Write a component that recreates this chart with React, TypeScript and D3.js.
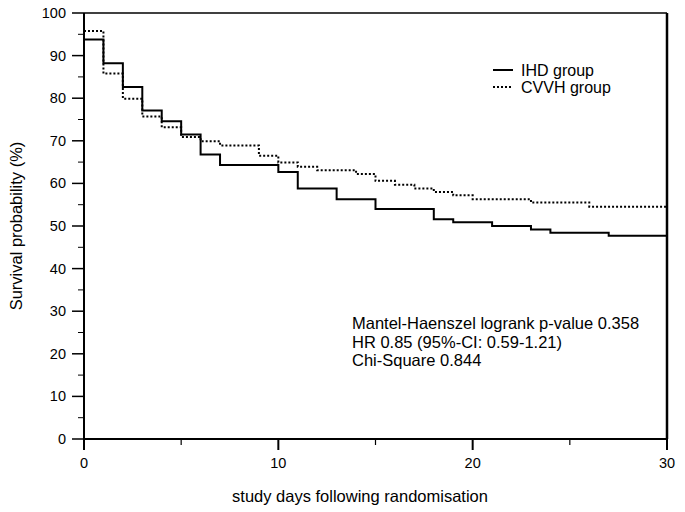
import React from "react";
import * as d3 from "d3";

const ihdTimes = [0, 1, 2, 3, 4, 5, 6, 7, 10, 11, 13, 15, 18, 19, 21, 23, 24, 27];
const ihdSurv = [93.8, 88.2, 82.6, 77.1, 74.6, 71.5, 66.8, 64.3, 62.7, 58.8, 56.3, 54.0, 51.6, 50.9, 50.0, 49.2, 48.4, 47.7];
const cvvhTimes = [0, 1, 2, 3, 4, 5, 6, 7, 9, 10, 11, 12, 14, 15, 16, 17, 18, 19, 20, 23, 26];
const cvvhSurv = [95.8, 85.8, 79.9, 75.7, 73.2, 70.9, 69.9, 68.9, 66.5, 64.9, 63.9, 63.1, 62.2, 60.6, 59.7, 58.8, 58.0, 57.2, 56.3, 55.5, 54.5];
const xMajor = [0, 10, 20, 30];
const xMinor = [5, 15, 25];
const yMajor = [0, 10, 20, 30, 40, 50, 60, 70, 80, 90, 100];
const yMinor = [5, 15, 25, 35, 45, 55, 65, 75, 85, 95];
const legendLabels = ["IHD group", "CVVH group"];
const statLines = [
  "Mantel-Haenszel logrank p-value 0.358",
  "HR 0.85 (95%-CI: 0.59-1.21)",
  "Chi-Square 0.844",
];
const xMax = 30;

export default function App() {
  const W = 685, H = 512;
  const x = d3.scaleLinear().domain([0, 30]).range([84, 667]);
  const y = d3.scaleLinear().domain([0, 100]).range([439, 13]);
  const font = "Liberation Sans, Arial, sans-serif";

  const mk = (times: number[], surv: number[]) => {
    const pts: [number, number][] = times.map((t, i) => [t, surv[i]]);
    pts.push([xMax, surv[surv.length - 1]]);
    return d3.line<[number, number]>().x(d => x(d[0])).y(d => y(d[1])).curve(d3.curveStepAfter)(pts) || "";
  };

  return (
    <svg width={W} height={H} style={{ position: "absolute", left: 0, top: 0, background: "#fff" }}>
      <rect x={0} y={0} width={W} height={H} fill="#fff" />
      {/* frame top & right */}
      <line x1={x(0)} x2={x(30)} y1={y(100)} y2={y(100)} stroke="#000" strokeWidth={1.5} />
      <line x1={x(30)} x2={x(30)} y1={y(100)} y2={y(0)} stroke="#000" strokeWidth={2.5} />
      {/* curves */}
      <path d={mk(ihdTimes, ihdSurv)} fill="none" stroke="#000" strokeWidth={2} />
      <path d={mk(cvvhTimes, cvvhSurv)} fill="none" stroke="#000" strokeWidth={2} strokeDasharray="2,2" />
      {/* axes */}
      <line x1={x(0)} x2={x(0)} y1={y(100)} y2={y(0) + 11} stroke="#000" strokeWidth={2} />
      <line x1={x(0)} x2={x(30)} y1={y(0)} y2={y(0)} stroke="#000" strokeWidth={2} />
      {yMajor.map(v => (
        <g key={"ym" + v}>
          <line x1={x(0) - 12} x2={x(0)} y1={y(v)} y2={y(v)} stroke="#000" strokeWidth={1.5} />
          <text x={66} y={y(v) + 5} textAnchor="end" fontFamily={font} fontSize={14.5}>{v}</text>
        </g>
      ))}
      {yMinor.map(v => (
        <line key={"yn" + v} x1={x(0) - 6} x2={x(0)} y1={y(v)} y2={y(v)} stroke="#000" strokeWidth={1} />
      ))}
      {xMajor.map(v => (
        <g key={"xm" + v}>
          <line x1={x(v)} x2={x(v)} y1={y(0)} y2={y(0) + 11} stroke="#000" strokeWidth={2} />
          <text x={x(v)} y={y(0) + 29} textAnchor="middle" fontFamily={font} fontSize={14.5}>{v}</text>
        </g>
      ))}
      {xMinor.map(v => (
        <line key={"xn" + v} x1={x(v)} x2={x(v)} y1={y(0)} y2={y(0) + 6} stroke="#000" strokeWidth={1.2} />
      ))}
      {/* axis titles */}
      <text x={360} y={502} textAnchor="middle" fontFamily={font} fontSize={16.5}>study days following randomisation</text>
      <text transform={`translate(22,${(y(0) + y(100)) / 2}) rotate(-90)`} textAnchor="middle" fontFamily={font} fontSize={16.5}>Survival probability (%)</text>
      {/* legend */}
      <line x1={493} x2={513} y1={70} y2={70} stroke="#000" strokeWidth={2} />
      <text x={521} y={76} fontFamily={font} fontSize={16}>{legendLabels[0]}</text>
      <line x1={493} x2={513} y1={87} y2={87} stroke="#000" strokeWidth={2} strokeDasharray="2,2" />
      <text x={521} y={93} fontFamily={font} fontSize={16}>{legendLabels[1]}</text>
      {/* stats */}
      {statLines.map((s, i) => (
        <text key={s} x={352} y={329 + i * 18.5} fontFamily={font} fontSize={16.5}>{s}</text>
      ))}
    </svg>
  );
}
